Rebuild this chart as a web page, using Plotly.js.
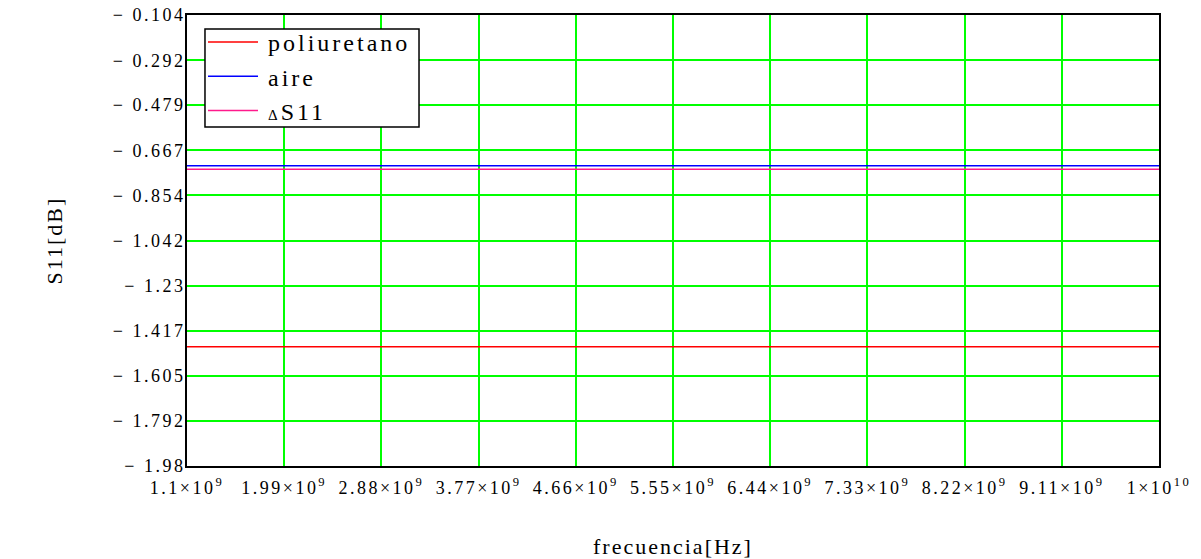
<!DOCTYPE html>
<html>
<head>
<meta charset="utf-8">
<script src="https://cdn.plot.ly/plotly-3.0.1.min.js"></script>
<style>
html,body{margin:0;padding:0;background:#fff;}
#chart{width:1201px;height:559px;}
#chart .legendtext{letter-spacing:3px;}
#chart .legend, #chart .legend .scrollbox{clip-path:none !important;}
#chart .legendlines path{transform:translateX(-16.25px) scaleX(1.25);}
#chart .ytick text,#chart .xtick text{letter-spacing:2.5px;}
#chart .g-xtitle text,#chart .g-ytitle text{letter-spacing:2px;}
</style>
</head>
<body>
<div id="chart"></div>
<script>
// Data
const frecuencia = [1.1e9, 1.99e9, 2.88e9, 3.77e9, 4.66e9, 5.55e9, 6.44e9, 7.33e9, 8.22e9, 9.11e9, 1e10];
const poliuretano = [-1.484, -1.484, -1.484, -1.484, -1.484, -1.484, -1.484, -1.484, -1.484, -1.484, -1.484];
const aire = [-0.731, -0.731, -0.731, -0.731, -0.731, -0.731, -0.731, -0.731, -0.731, -0.731, -0.731];
const deltaS11 = [-0.746, -0.746, -0.746, -0.746, -0.746, -0.746, -0.746, -0.746, -0.746, -0.746, -0.746];

const xTickVals = [1.1e9, 1.99e9, 2.88e9, 3.77e9, 4.66e9, 5.55e9, 6.44e9, 7.33e9, 8.22e9, 9.11e9, 1e10];
const xTickText = ["1.1×10<sup>9</sup>", "1.99×10<sup>9</sup>", "2.88×10<sup>9</sup>", "3.77×10<sup>9</sup>", "4.66×10<sup>9</sup>", "5.55×10<sup>9</sup>", "6.44×10<sup>9</sup>", "7.33×10<sup>9</sup>", "8.22×10<sup>9</sup>", "9.11×10<sup>9</sup>", "1×10<sup>10</sup>"];
const yTickVals = [-0.104, -0.292, -0.479, -0.667, -0.854, -1.042, -1.23, -1.417, -1.605, -1.792, -1.98];
const yTickText = ["− 0.104", "− 0.292", "− 0.479", "− 0.667", "− 0.854", "− 1.042", "− 1.23", "− 1.417", "− 1.605", "− 1.792", "− 1.98"];

const font = "Liberation Serif";

const traces = [
  {x: frecuencia, y: poliuretano, name: "poliuretano", mode: "lines", line: {color: "#ff0000", width: 1.5}},
  {x: frecuencia, y: aire, name: "aire", mode: "lines", line: {color: "#0000ff", width: 1.5}},
  {x: frecuencia, y: deltaS11, name: "<span style='font-size:15px'>Δ</span>S11", mode: "lines", line: {color: "#ff1a8c", width: 1.5}}
];

const layout = {
  width: 1201, height: 559,
  margin: {l: 187, r: 42, t: 15, b: 93},
  paper_bgcolor: "#fff", plot_bgcolor: "#fff",
  font: {family: font, color: "#000"},
  showlegend: true,
  legend: {
    x: 0.0319, y: 0.989, xanchor: "left", yanchor: "top",
    bgcolor: "rgba(0,0,0,0)", borderwidth: 0,
    font: {family: font, size: 24, color: "#000"},
    tracegroupgap: 0, itemwidth: 40
  },
  shapes: [{
    type: "rect", xref: "paper", yref: "paper", layer: "above",
    x0: 0.0185, x1: 0.2387, y0: 0.7517, y1: 0.969,
    fillcolor: "#fff", line: {color: "#000", width: 1.5}
  }],
  xaxis: {
    range: [1.1e9, 1e10],
    tickmode: "array", tickvals: xTickVals, ticktext: xTickText,
    tickfont: {family: font, size: 18},
    ticklabelstandoff: 4,
    showgrid: true, gridcolor: "#00ff00", gridwidth: 2,
    showline: true, linecolor: "#000", linewidth: 2, mirror: true,
    ticks: "", zeroline: false,
    title: {text: "frecuencia[Hz]", font: {family: font, size: 22}, standoff: 46}
  },
  yaxis: {
    range: [-1.98, -0.104],
    tickmode: "array", tickvals: yTickVals, ticktext: yTickText,
    tickfont: {family: font, size: 18},
    ticklabelstandoff: -4,
    showgrid: true, gridcolor: "#00ff00", gridwidth: 2,
    showline: true, linecolor: "#000", linewidth: 2, mirror: true,
    ticks: "", zeroline: false,
    title: {text: "S11[dB]", font: {family: font, size: 22}, standoff: 62}
  }
};

Plotly.newPlot("chart", traces, layout, {displayModeBar: false, staticPlot: true});
</script>
</body>
</html>
